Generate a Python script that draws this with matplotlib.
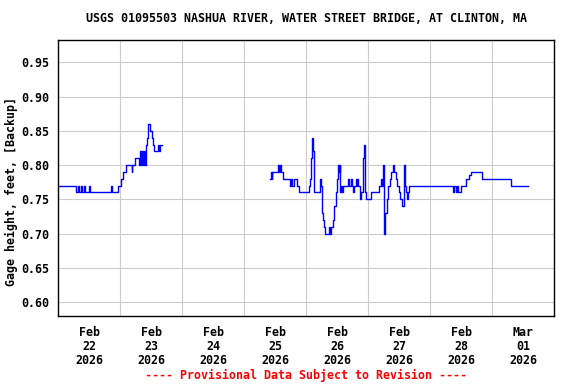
import numpy as np
import matplotlib
matplotlib.use('Agg')
import matplotlib.pyplot as plt
import matplotlib.dates as mdates
from matplotlib.ticker import FixedLocator, FuncFormatter

title = "USGS 01095503 NASHUA RIVER, WATER STREET BRIDGE, AT CLINTON, MA"
ylabel = "Gage height, feet, [Backup]"
footer = "---- Provisional Data Subject to Revision ----"

start = np.datetime64('2026-02-22T00:00')
end = np.datetime64('2026-03-02T00:00')

# hours after Feb 22 00:00 where the gage height steps, and the new value
seg1_hours = [0.0, 7.0, 7.7, 8.1, 8.9, 9.3, 10.1, 10.5, 12.0, 12.4, 20.5, 20.8,
              23.1, 24.4, 25.0, 26.2, 28.5, 28.8, 29.8, 31.4, 31.7, 32.0, 32.4,
              32.7, 33.0, 33.3, 33.6, 33.9, 34.3, 34.7, 35.0, 35.6, 36.2, 36.6,
              37.1, 38.6, 39.0, 39.6, 40.1]
seg1_vals = [0.77, 0.76, 0.77, 0.76, 0.77, 0.76, 0.77, 0.76, 0.77, 0.76, 0.77, 0.76,
             0.77, 0.78, 0.79, 0.80, 0.79, 0.80, 0.81, 0.80, 0.82, 0.80, 0.81,
             0.82, 0.80, 0.82, 0.80, 0.83, 0.84, 0.85, 0.86, 0.85, 0.84, 0.83,
             0.82, 0.83, 0.82, 0.83, 0.83]

seg2_hours = [82.1, 82.3, 82.7, 83.0, 85.3, 85.7, 86.1, 86.5, 87.2, 89.8, 90.2, 90.6,
              91.5, 92.6, 93.4, 97.0, 97.5, 97.9, 98.4, 98.7, 99.1, 101.3, 101.7,
              102.1, 102.3, 102.7, 103.1, 103.5, 105.0, 105.4, 105.7, 106.5, 107.0,
              107.5, 108.0, 108.4, 108.8, 109.0, 109.3, 109.7, 110.1, 110.4, 112.3,
              112.6, 113.5, 113.9, 114.3, 114.7, 115.2, 115.6, 115.9, 116.2, 116.8,
              117.0, 117.4, 117.9, 118.4, 118.8, 119.1, 121.2, 124.4, 124.9, 125.3,
              125.8, 126.3, 126.6, 127.4, 127.9, 128.4, 128.9, 129.6, 130.2, 131.0,
              131.3, 131.9, 132.5, 133.3, 133.9, 134.3, 134.7, 135.1, 135.5, 135.9,
              152.8, 153.4, 154.0, 154.3, 155.0, 155.9, 157.9, 159.0, 159.7, 164.2,
              175.5, 182.1]
seg2_vals = [0.78, 0.79, 0.78, 0.79, 0.80, 0.79, 0.80, 0.79, 0.78, 0.77, 0.78, 0.77,
             0.78, 0.77, 0.76, 0.77, 0.78, 0.81, 0.84, 0.82, 0.76, 0.78, 0.77,
             0.76, 0.73, 0.72, 0.71, 0.70, 0.71, 0.70, 0.71, 0.72, 0.74,
             0.76, 0.78, 0.80, 0.79, 0.80, 0.76, 0.77, 0.76, 0.77, 0.78,
             0.77, 0.78, 0.77, 0.76, 0.77, 0.78, 0.77, 0.78, 0.77, 0.76,
             0.75, 0.76, 0.81, 0.83, 0.76, 0.75, 0.76, 0.77, 0.78, 0.77,
             0.80, 0.70, 0.73, 0.75, 0.77, 0.78, 0.79, 0.80, 0.79, 0.78,
             0.77, 0.76, 0.75, 0.74, 0.80, 0.77, 0.76, 0.75, 0.76, 0.77,
             0.76, 0.77, 0.76, 0.77, 0.76, 0.77, 0.78, 0.785, 0.79, 0.78,
             0.77, 0.77]

yticks = [0.60, 0.65, 0.70, 0.75, 0.80, 0.85, 0.90, 0.95]


def to_dates(hours):
    mins = np.round(np.array(hours) * 60).astype('int64')
    return start + mins.astype('timedelta64[m]')


def main():
    font = 'DejaVu Sans Mono'
    fs = 8.4
    plt.rcParams['font.family'] = font
    plt.rcParams['font.weight'] = 'bold'

    fig = plt.figure(figsize=(5.76, 3.84), dpi=100)
    ax = fig.add_axes([58 / 576, 1 - 316 / 384, 496 / 576, 276 / 384])

    for h, v in [(seg1_hours, seg1_vals), (seg2_hours, seg2_vals)]:
        ax.plot(to_dates(h), v, color='#0000ff', lw=1.0, drawstyle='steps-post')

    ax.set_xlim(start, end)
    ax.set_ylim(0.5796, 0.9826)

    # gridlines at midnight, labels at noon
    ax.xaxis.set_major_locator(mdates.DayLocator())
    ax.xaxis.set_major_formatter(FuncFormatter(lambda x, p: ''))
    ax.xaxis.set_minor_locator(mdates.HourLocator(byhour=12))
    ax.xaxis.set_minor_formatter(mdates.DateFormatter('%b\n%d\n%Y'))
    ax.yaxis.set_major_locator(FixedLocator(yticks))
    ax.yaxis.set_major_formatter(FuncFormatter(lambda y, p: '%.2f' % y))

    ax.grid(which='major', color='#cccccc', lw=0.8)
    ax.tick_params(which='both', length=0, labelsize=fs)
    ax.tick_params(axis='x', which='minor', pad=7)
    ax.tick_params(axis='y', pad=6)
    for lab in ax.xaxis.get_minorticklabels():
        lab.set_linespacing(1.1)
        lab.set_fontweight('bold')
    for lab in ax.get_yticklabels():
        lab.set_fontweight('bold')
    for s in ax.spines.values():
        s.set_linewidth(1.0)
        s.set_color('black')

    fig.text(306 / 576, 1 - 19 / 384, title, ha='center', va='center',
             fontsize=fs, fontweight='bold')
    fig.text(11 / 576, 0.5, ylabel, ha='center', va='center', rotation=90,
             fontsize=fs, fontweight='bold')
    fig.text(306 / 576, 1 - 375 / 384, footer, ha='center', va='center',
             fontsize=fs, fontweight='bold', color='red')

    fig.savefig('out.png', dpi=100)


if __name__ == '__main__':
    main()
